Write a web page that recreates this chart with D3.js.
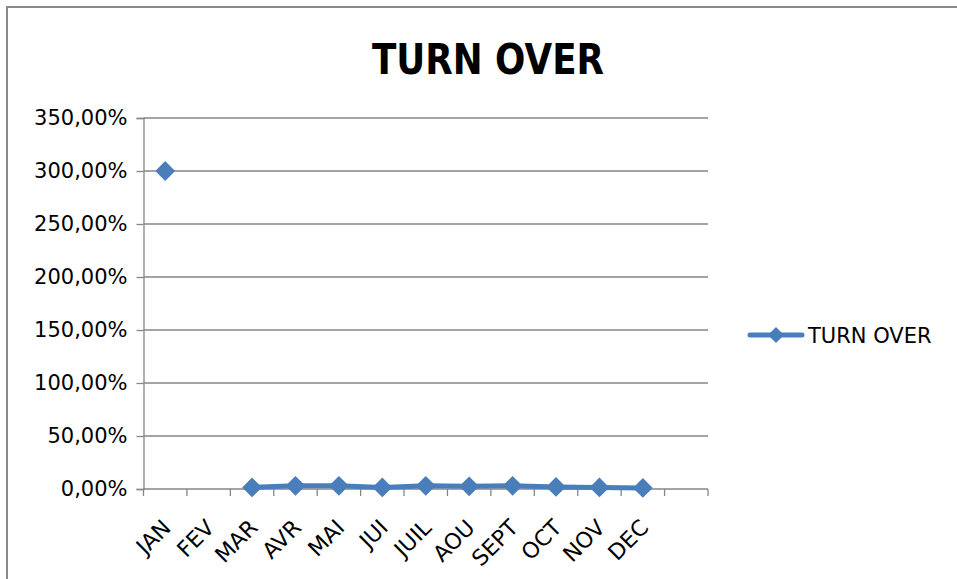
<!DOCTYPE html>
<html>
<head>
<meta charset="utf-8">
<script src="https://cdn.jsdelivr.net/npm/d3@7"></script>
<style>
  body { margin: 0; background: #fff; }
  text { font-family: "DejaVu Sans", sans-serif; fill: #000; }
</style>
</head>
<body>
<svg id="chart" width="957" height="579"></svg>
<script>
// categories (the last slot is empty in the source sheet)
const months = ["JAN", "FEV", "MAR", "AVR", "MAI", "JUI", "JUIL", "AOU", "SEPT", "OCT", "NOV", "DEC", ""];
// turn over as a fraction (1 = 100%)
const turnOver = [3.0, null, 0.015, 0.03, 0.03, 0.015, 0.03, 0.025, 0.03, 0.02, 0.015, 0.01, null];
const yTicks = [0, 0.5, 1, 1.5, 2, 2.5, 3, 3.5];
const title = "TURN OVER";
const seriesName = "TURN OVER";

const width = 957, height = 579;
const margin = {top: 118, right: 249, bottom: 90, left: 143.5};
const blue = "#4a7ebb";
const gray = "#868686";

const svg = d3.select("#chart");

// outer frame of the chart object
svg.append("rect")
  .attr("x", 7).attr("y", 7)
  .attr("width", 1000).attr("height", 700)
  .attr("fill", "none").attr("stroke", "#898989").attr("stroke-width", 2);

const x = d3.scaleBand()
  .domain(months.map((m, i) => i))
  .range([margin.left, width - margin.right])
  .padding(0);

const y = d3.scaleLinear()
  .domain([0, 3.5])
  .range([height - margin.bottom, margin.top]);

const fmt = v => d3.format(".2f")(v * 100).replace(".", ",") + "%";

// gridlines
svg.append("g")
  .selectAll("line")
  .data(yTicks.filter(d => d > 0))
  .join("line")
  .attr("x1", margin.left).attr("x2", width - margin.right)
  .attr("y1", d => y(d)).attr("y2", d => y(d))
  .attr("stroke", gray).attr("stroke-width", 1.3);

// y axis
const yAxis = svg.append("g")
  .attr("transform", `translate(${margin.left},0)`)
  .call(d3.axisLeft(y).tickValues(yTicks).tickFormat(fmt).tickSize(7).tickPadding(9));
yAxis.selectAll("path, line").attr("stroke", gray).attr("stroke-width", 1.3);
yAxis.selectAll("text").attr("font-size", 21).attr("font-family", "DejaVu Sans").attr("fill", "#000");

// x axis, ticks sit between categories
const xAxis = svg.append("g")
  .attr("transform", `translate(0,${y(0)})`);
xAxis.append("line")
  .attr("x1", margin.left).attr("x2", width - margin.right)
  .attr("stroke", gray).attr("stroke-width", 1.3);
xAxis.selectAll("line.tick")
  .data(d3.range(months.length + 1))
  .join("line")
  .attr("class", "tick")
  .attr("x1", i => margin.left + i * x.bandwidth())
  .attr("x2", i => margin.left + i * x.bandwidth())
  .attr("y1", 0).attr("y2", 7)
  .attr("stroke", gray).attr("stroke-width", 1.3);
xAxis.selectAll("text")
  .data(months.map((m, i) => ({m, i})).filter(d => d.m))
  .join("text")
  .attr("transform", d => `translate(${x(d.i) + x.bandwidth() / 2 + 7},40) rotate(-45)`)
  .attr("text-anchor", "end")
  .attr("font-size", 22)
  .text(d => d.m);

// series line
const pts = turnOver.map((v, i) => ({v, i}));
const line = d3.line()
  .defined(d => d.v != null)
  .x(d => x(d.i) + x.bandwidth() / 2)
  .y(d => y(d.v));

svg.append("path")
  .datum(pts)
  .attr("fill", "none")
  .attr("stroke", blue)
  .attr("stroke-width", 5)
  .attr("stroke-linejoin", "round")
  .attr("d", line);

const diamond = d3.symbol(d3.symbolSquare, 196);
svg.append("g")
  .selectAll("path")
  .data(pts.filter(d => d.v != null))
  .join("path")
  .attr("d", diamond)
  .attr("transform", d => `translate(${x(d.i) + x.bandwidth() / 2},${y(d.v)}) rotate(45)`)
  .attr("fill", blue);

// title, squeezed to mimic the narrow bold face of the original
svg.append("text")
  .attr("x", 372).attr("y", 74)
  .attr("font-size", 42)
  .attr("font-weight", "bold")
  .attr("textLength", 232)
  .attr("lengthAdjust", "spacingAndGlyphs")
  .text(title);

// legend
const lg = svg.append("g").attr("transform", "translate(748,335)");
lg.append("line")
  .attr("x1", 2).attr("x2", 54)
  .attr("stroke", blue).attr("stroke-width", 5).attr("stroke-linecap", "round");
lg.append("path")
  .attr("d", d3.symbol(d3.symbolSquare, 130))
  .attr("transform", "translate(28,0) rotate(45)")
  .attr("fill", blue);
lg.append("text")
  .attr("x", 60).attr("y", 8)
  .attr("font-size", 21)
  .text(seriesName);
</script>
</body>
</html>
